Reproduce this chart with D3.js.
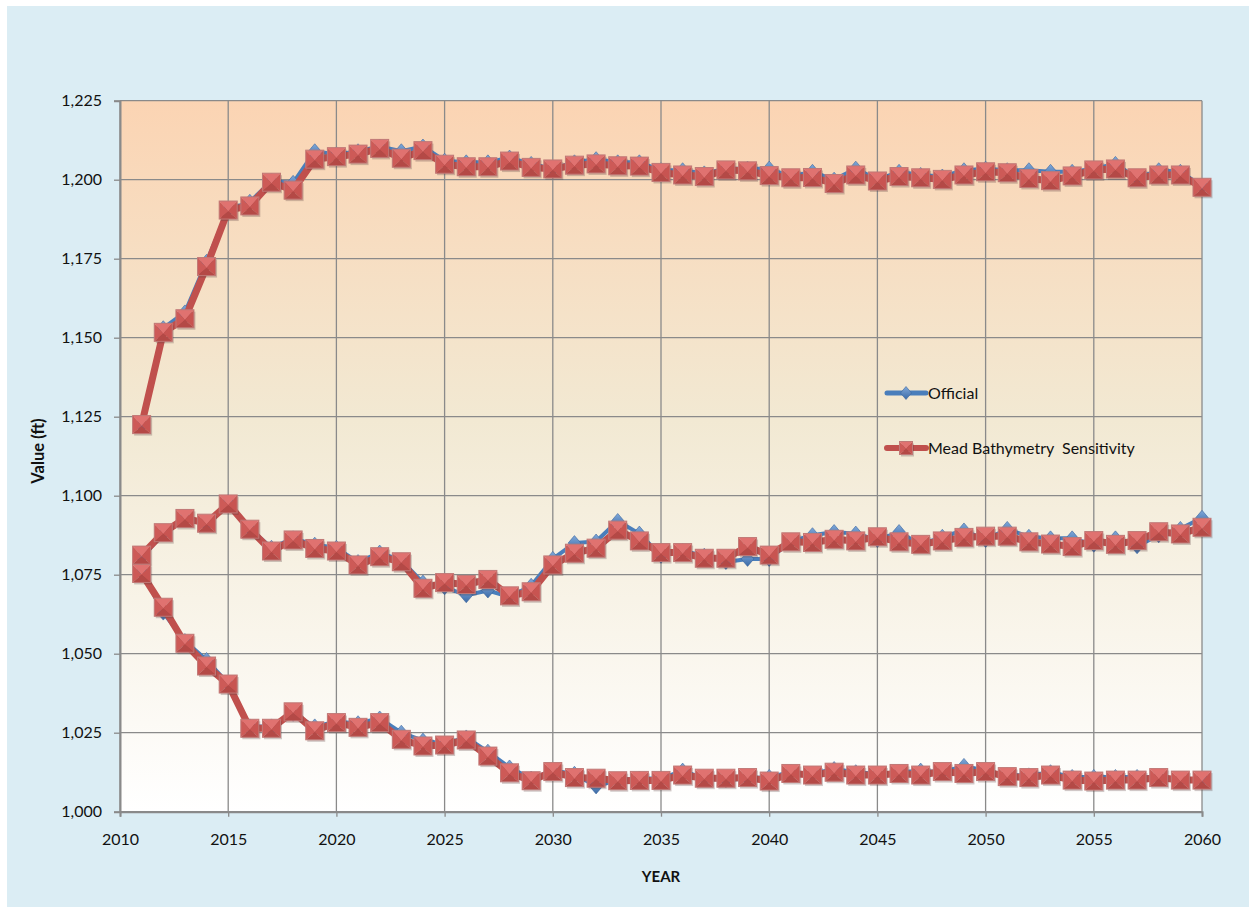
<!DOCTYPE html>
<html>
<head>
<meta charset="utf-8">
<script src="https://d3js.org/d3.v7.min.js"></script>
<style>
  body { margin: 0; background: #fff; }
  svg { display: block; font-family: Lato, "Open Sans", sans-serif; }
</style>
</head>
<body>
<div id="chart"></div>
<script>
// years on the x axis
const years = d3.range(2011, 2061);

// Official run (three traces)
const officialHigh = [1122.5, 1153, 1158, 1174, 1190.5, 1193, 1199.5, 1199, 1209, 1208,
  1209, 1210.5, 1209, 1210.5, 1206, 1205.5, 1205.5, 1207, 1205, 1203.5,
  1205.5, 1206.5, 1205.5, 1205.5, 1203, 1203, 1202, 1203.5, 1203.5, 1203.5,
  1201, 1202.5, 1200, 1203.5, 1200, 1202.5, 1201.5, 1201, 1203, 1203.5,
  1203, 1203, 1202.5, 1202.5, 1203.5, 1205, 1200.5, 1203, 1202.5, 1198];
const officialMid = [1080.5, 1088, 1093, 1091, 1098, 1089.5, 1083.5, 1086.5, 1084.5, 1083.5,
  1079, 1082, 1079.5, 1072.5, 1071, 1068.5, 1070, 1068, 1071.5, 1080,
  1085, 1085.5, 1092, 1088, 1081, 1082.5, 1081, 1079, 1080, 1080,
  1085.5, 1087.5, 1088.5, 1088, 1086, 1088.5, 1084.5, 1087, 1089, 1086,
  1089.5, 1087, 1086.5, 1086.5, 1084.5, 1086.5, 1084, 1087.5, 1089.5, 1093];
const officialLow = [1076, 1063, 1054, 1048, 1040.5, 1027, 1027, 1031, 1027, 1028.5,
  1028, 1029.5, 1025, 1022.5, 1021.5, 1023.5, 1019, 1014, 1010.5, 1013,
  1012, 1008, 1010, 1010.5, 1010.5, 1013, 1010.5, 1010, 1010.5, 1011,
  1012.5, 1012, 1013.5, 1012.5, 1012, 1012.5, 1013, 1012.5, 1014.5, 1013,
  1011.5, 1011.5, 1012.5, 1011, 1011, 1011, 1011, 1011, 1010, 1010.5];

// Mead Bathymetry Sensitivity run (three traces)
const meadHigh = [1122.5, 1151.7, 1156, 1172.5, 1190.4, 1191.7, 1199.2, 1196.7, 1206.5, 1207.3,
  1208.1, 1209.9, 1206.8, 1209.2, 1204.9, 1204.1, 1204.1, 1205.9, 1203.9, 1203.4,
  1204.6, 1205, 1204.4, 1204.3, 1202.3, 1201.5, 1201, 1203.1, 1202.8, 1201.3,
  1200.6, 1200.7, 1198.8, 1201.5, 1199.6, 1201, 1200.6, 1200.1, 1201.5, 1202.5,
  1202.2, 1200.4, 1199.7, 1201.2, 1203.1, 1203.4, 1200.6, 1201.5, 1201.5, 1197.6];
const meadMid = [1081.2, 1088.3, 1092.8, 1091.3, 1097.4, 1089.4, 1082.5, 1086, 1083.3, 1082.5,
  1078.1, 1080.7, 1079.1, 1070.7, 1072.5, 1071.9, 1073.5, 1068.3, 1069.6, 1078.1,
  1081.8, 1083.4, 1089.1, 1085.7, 1082, 1082, 1080.2, 1080.2, 1083.9, 1081.2,
  1085.4, 1085.2, 1086.2, 1085.7, 1087, 1085.4, 1084.6, 1085.7, 1086.8, 1087.2,
  1087.2, 1085.4, 1084.7, 1083.9, 1085.8, 1084.6, 1085.8, 1088.6, 1087.9, 1090];
const meadLow = [1075.4, 1064.7, 1053.3, 1046.1, 1040.4, 1026.4, 1026.4, 1031.6, 1025.6, 1028.2,
  1026.7, 1028.2, 1022.9, 1020.8, 1021.1, 1022.7, 1017.6, 1012.3, 1009.8, 1012.7,
  1010.8, 1010.6, 1009.8, 1009.9, 1009.9, 1011.6, 1010.6, 1010.6, 1010.8, 1009.7,
  1012.1, 1011.6, 1012.5, 1011.6, 1011.6, 1012.1, 1011.6, 1012.7, 1012.1, 1012.7,
  1011.1, 1010.8, 1011.6, 1010, 1009.7, 1010, 1010, 1010.8, 1010, 1010];

const yTicks = [1000, 1025, 1050, 1075, 1100, 1125, 1150, 1175, 1200, 1225];
const xTicks = [2010, 2015, 2020, 2025, 2030, 2035, 2040, 2045, 2050, 2055, 2060];
const seriesNames = ["Official", "Mead Bathymetry  Sensitivity"];

const W = 1249, H = 907;
const plot = { left: 120, right: 1202, top: 100.7, bottom: 811.7 };

const svg = d3.select("#chart").append("svg")
  .attr("width", W).attr("height", H);

const defs = svg.append("defs");

const bg = defs.append("linearGradient").attr("id", "plotBg")
  .attr("x1", 0).attr("y1", 0).attr("x2", 0).attr("y2", 1);
bg.append("stop").attr("offset", "0%").attr("stop-color", "#FBD4B3");
bg.append("stop").attr("offset", "45%").attr("stop-color", "#F2E9D3");
bg.append("stop").attr("offset", "100%").attr("stop-color", "#FFFFFF");

const dg = defs.append("linearGradient").attr("id", "diaGrad")
  .attr("x1", 0).attr("y1", 0).attr("x2", 0).attr("y2", 1);
dg.append("stop").attr("offset", "0%").attr("stop-color", "#7FA8DA");
dg.append("stop").attr("offset", "100%").attr("stop-color", "#3B6AA6");

// chart background
svg.append("rect").attr("x", 7).attr("y", 6)
  .attr("width", W - 7).attr("height", H - 6).attr("fill", "#DBEDF4");

svg.append("rect")
  .attr("x", plot.left).attr("y", plot.top)
  .attr("width", plot.right - plot.left).attr("height", plot.bottom - plot.top)
  .attr("fill", "url(#plotBg)");

const x = d3.scaleLinear().domain([2010, 2060]).range([plot.left, plot.right]);
const y = d3.scaleLinear().domain([1000, 1225]).range([plot.bottom, plot.top]);

// grid
const grid = svg.append("g").attr("stroke", "#8A8A8A").attr("stroke-width", 1.3);
grid.selectAll(".hg").data(yTicks).join("line")
  .attr("x1", plot.left).attr("x2", plot.right)
  .attr("y1", d => y(d)).attr("y2", d => y(d));
grid.selectAll(".vg").data(xTicks).join("line")
  .attr("x1", d => x(d)).attr("x2", d => x(d))
  .attr("y1", plot.top).attr("y2", plot.bottom);

// axes
const yAxis = svg.append("g")
  .attr("transform", `translate(${plot.left},0)`)
  .call(d3.axisLeft(y).tickValues(yTicks).tickSize(6).tickPadding(12)
    .tickFormat(d3.format(",")));
const xAxis = svg.append("g")
  .attr("transform", `translate(0,${plot.bottom})`)
  .call(d3.axisBottom(x).tickValues(xTicks).tickSize(5).tickPadding(17)
    .tickFormat(d3.format("d")));
[yAxis, xAxis].forEach(a => {
  a.select(".domain").attr("stroke", "#8A8A8A").attr("stroke-width", 2);
  a.selectAll(".tick line").attr("stroke", "#8A8A8A").attr("stroke-width", 1.3);
  a.selectAll("text").attr("font-size", 16).attr("fill", "#111")
    .attr("font-family", "Lato, sans-serif");
});

svg.append("text")
  .attr("x", x(2035)).attr("y", 882)
  .attr("text-anchor", "middle").attr("font-weight", "bold").attr("font-size", 15)
  .attr("fill", "#111").text("YEAR");
svg.append("text")
  .attr("transform", `translate(44,451) rotate(-90)`)
  .attr("text-anchor", "middle").attr("font-weight", "bold").attr("font-size", 16.5)
  .attr("fill", "#111").text("Value (ft)");

const line = d3.line().x((d, i) => x(years[i])).y(d => y(d));

function drawDiamond(g, cx, cy, s) {
  const m = g.append("g").attr("transform", `translate(${cx},${cy})`);
  m.append("path")
    .attr("d", `M0,${-s}L${s * 0.85},0L0,${s}L${-s * 0.85},0Z`)
    .attr("fill", "url(#diaGrad)").attr("stroke", "#3A659C").attr("stroke-width", 0.6);
}

function drawSquare(g, cx, cy, h) {
  const m = g.append("g").attr("transform", `translate(${cx},${cy})`);
  m.append("rect").attr("x", -h + 1.5).attr("y", -h + 2)
    .attr("width", 2 * h).attr("height", 2 * h)
    .attr("fill", "rgba(90,60,60,0.28)");
  const c = h * 0.15;
  m.append("path").attr("d", `M${-h},${-h}L${h},${-h}L0,${c}Z`).attr("fill", "#E07270");
  m.append("path").attr("d", `M${-h},${-h}L0,${c}L${-h},${h}Z`).attr("fill", "#CD5A57");
  m.append("path").attr("d", `M${h},${-h}L${h},${h}L0,${c}Z`).attr("fill", "#C85451");
  m.append("path").attr("d", `M${-h},${h}L0,${c}L${h},${h}Z`).attr("fill", "#B44946");
  m.append("rect").attr("x", -h).attr("y", -h)
    .attr("width", 2 * h).attr("height", 2 * h)
    .attr("fill", "none").attr("stroke", "#C07876").attr("stroke-width", 1);
}

// Official series
const offG = svg.append("g");
[officialHigh, officialMid, officialLow].forEach(s => {
  offG.append("path").datum(s).attr("d", line)
    .attr("fill", "none").attr("stroke", "#4A7EBB").attr("stroke-width", 4)
    .attr("stroke-linejoin", "round");
});
[officialHigh, officialMid, officialLow].forEach(s => {
  s.forEach((v, i) => drawDiamond(offG, x(years[i]), y(v), 7.5));
});

// Mead Bathymetry Sensitivity series
const meadG = svg.append("g");
[meadHigh, meadMid, meadLow].forEach(s => {
  meadG.append("path").datum(s).attr("d", line)
    .attr("fill", "none").attr("stroke", "#C0504D").attr("stroke-width", 7)
    .attr("stroke-linejoin", "round");
});
[meadHigh, meadMid, meadLow].forEach(s => {
  s.forEach((v, i) => drawSquare(meadG, x(years[i]), y(v), 9));
});

// legend
const legend = svg.append("g");
const legY = [393, 448];
legend.append("line").attr("x1", 887).attr("x2", 926).attr("y1", legY[0]).attr("y2", legY[0])
  .attr("stroke", "#4A7EBB").attr("stroke-width", 5).attr("stroke-linecap", "round");
drawDiamond(legend, 906, legY[0], 6.5);
legend.append("line").attr("x1", 887).attr("x2", 926).attr("y1", legY[1]).attr("y2", legY[1])
  .attr("stroke", "#C0504D").attr("stroke-width", 6).attr("stroke-linecap", "round");
drawSquare(legend, 906, legY[1], 6.5);
legend.selectAll(".lt").data(seriesNames).join("text")
  .attr("x", 928).attr("y", (d, i) => legY[i] + 5.5)
  .attr("font-size", 16).attr("fill", "#111")
  .style("white-space", "pre")
  .text(d => d);
</script>
</body>
</html>
